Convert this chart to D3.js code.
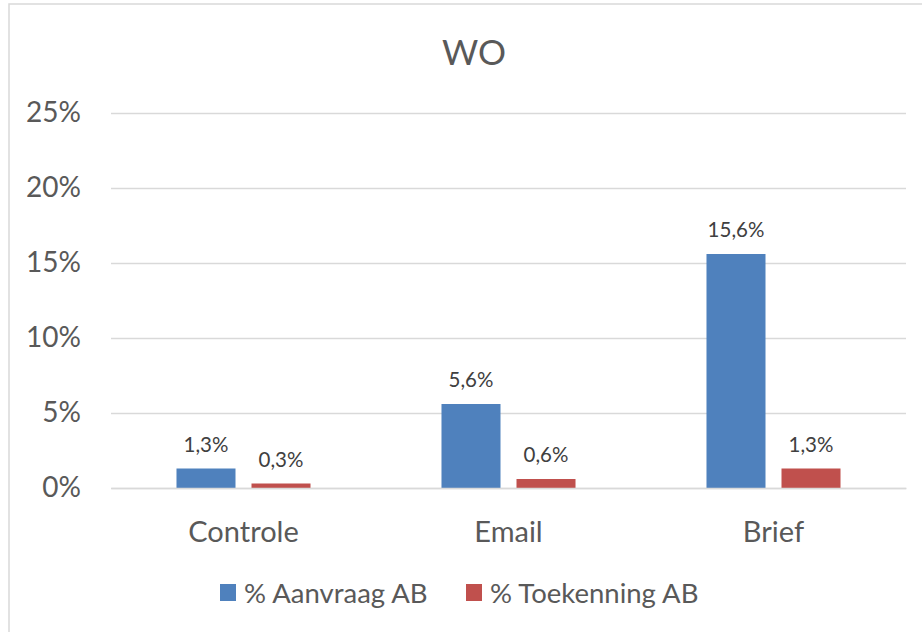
<!DOCTYPE html>
<html>
<head>
<meta charset="utf-8">
<script src="https://cdn.jsdelivr.net/npm/d3@7"></script>
<style>
  html, body { margin: 0; padding: 0; background: #fff; }
  svg { display: block; font-family: Lato, "Open Sans", sans-serif; }
</style>
</head>
<body>
<svg id="chart" width="922" height="632"></svg>
<script>
const title = "WO";
const categories = ["Controle", "Email", "Brief"];
const seriesNames = ["% Aanvraag AB", "% Toekenning AB"];
const aanvraag = [0.013, 0.056, 0.156];
const toekenning = [0.003, 0.006, 0.013];
const yTicks = [0, 0.05, 0.10, 0.15, 0.20, 0.25];
const colors = ["#4F81BD", "#C0504D"];

const seriesValues = [aanvraag, toekenning];
const svg = d3.select("#chart");

// outer border of chart area
svg.append("rect")
  .attr("x", 9).attr("y", 4)
  .attr("width", 930).attr("height", 640)
  .attr("fill", "#fff")
  .attr("stroke", "#d9d9d9").attr("stroke-width", 1.5);

const x0 = d3.scaleBand().domain(categories).range([111, 906]).padding(0);
const x1 = d3.scaleBand().domain(seriesNames).range([0, x0.bandwidth()])
  .paddingInner(0.2133).paddingOuter(0.873);
const y = d3.scaleLinear().domain([0, 0.25]).range([488, 113]);

const fmtTick = v => Math.round(v * 100) + "%";
const fmtLabel = v => (v * 100).toFixed(1).replace(".", ",") + "%";

// gridlines
const yAxis = d3.axisLeft(y).tickValues(yTicks).tickSize(-(906 - 111)).tickFormat(fmtTick).tickPadding(30);
const gy = svg.append("g").attr("transform", "translate(111,0)").call(yAxis);
gy.select(".domain").remove();
gy.selectAll(".tick line").attr("stroke", "#d9d9d9").attr("stroke-width", 1.5);
gy.selectAll(".tick text")
  .attr("fill", "#595959")
  .style("font-size", "28px")
  .style("font-family", "Lato, 'Open Sans', sans-serif");

// bars
const groups = svg.append("g").selectAll("g")
  .data(categories)
  .join("g")
  .attr("transform", d => `translate(${x0(d)},0)`);

groups.selectAll("rect")
  .data((c, i) => seriesNames.map((s, k) => ({ s, k, v: seriesValues[k][i] })))
  .join("rect")
  .attr("x", d => x1(d.s))
  .attr("y", d => y(d.v))
  .attr("width", x1.bandwidth())
  .attr("height", d => y(0) - y(d.v))
  .attr("fill", d => colors[d.k]);

groups.selectAll("text.lbl")
  .data((c, i) => seriesNames.map((s, k) => ({ s, k, v: seriesValues[k][i] })))
  .join("text")
  .attr("class", "lbl")
  .attr("x", d => x1(d.s) + x1.bandwidth() / 2)
  .attr("y", d => y(d.v) - 17)
  .attr("text-anchor", "middle")
  .attr("fill", "#404040")
  .style("font-size", "20.5px")
  .text(d => fmtLabel(d.v));

// baseline axis
const xAxis = d3.axisBottom(x0).tickSize(0).tickPadding(33);
const gx = svg.append("g").attr("transform", "translate(0,488)").call(xAxis);
gx.select(".domain").attr("stroke", "#d9d9d9").attr("stroke-width", 1.5);
gx.selectAll(".tick text")
  .attr("fill", "#595959")
  .style("font-size", "29px")
  .style("font-family", "Lato, 'Open Sans', sans-serif");

// title
svg.append("text")
  .attr("x", 474).attr("y", 65)
  .attr("text-anchor", "middle")
  .attr("fill", "#595959")
  .style("font-size", "35px")
  .text(title);

// legend
const legendX = [220, 466];
const leg = svg.append("g").selectAll("g")
  .data(seriesNames)
  .join("g")
  .attr("transform", (d, i) => `translate(${legendX[i]},0)`);
leg.append("rect")
  .attr("x", 0).attr("y", 584)
  .attr("width", 16).attr("height", 17)
  .attr("fill", (d, i) => colors[i]);
leg.append("text")
  .attr("x", 24).attr("y", 603)
  .attr("fill", "#595959")
  .style("font-size", "27.5px")
  .text(d => d);
</script>
</body>
</html>
